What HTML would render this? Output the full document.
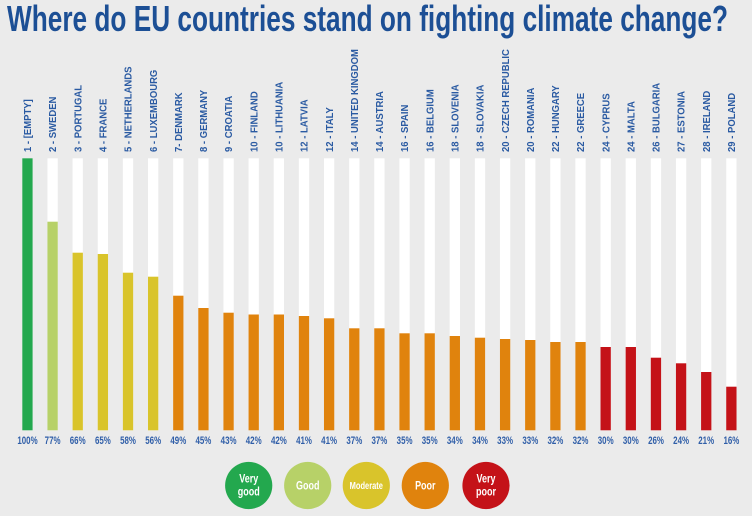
<!DOCTYPE html>
<html>
<head>
<meta charset="utf-8">
<style>
html,body{margin:0;padding:0;background:#ebebeb;}
svg{display:block;}
text{font-family:"Liberation Sans",sans-serif;font-weight:bold;}
</style>
</head>
<body>
<svg width="752" height="516" viewBox="0 0 752 516" xmlns="http://www.w3.org/2000/svg">
<rect x="0" y="0" width="752" height="516" fill="#ebebeb"/>
<text x="7" y="31" font-size="36" fill="#1c4f95" textLength="721" lengthAdjust="spacingAndGlyphs">Where do EU countries stand on fighting climate change?</text>

<g id="bars">
<!-- white backgrounds -->
<g fill="#ffffff">
<rect x="22.3" y="158.3" width="10.3" height="272"/>
<rect x="47.44" y="158.3" width="10.3" height="272"/>
<rect x="72.58" y="158.3" width="10.3" height="272"/>
<rect x="97.72" y="158.3" width="10.3" height="272"/>
<rect x="122.86" y="158.3" width="10.3" height="272"/>
<rect x="148.0" y="158.3" width="10.3" height="272"/>
<rect x="173.14" y="158.3" width="10.3" height="272"/>
<rect x="198.28" y="158.3" width="10.3" height="272"/>
<rect x="223.42" y="158.3" width="10.3" height="272"/>
<rect x="248.56" y="158.3" width="10.3" height="272"/>
<rect x="273.7" y="158.3" width="10.3" height="272"/>
<rect x="298.84" y="158.3" width="10.3" height="272"/>
<rect x="323.98" y="158.3" width="10.3" height="272"/>
<rect x="349.12" y="158.3" width="10.3" height="272"/>
<rect x="374.26" y="158.3" width="10.3" height="272"/>
<rect x="399.4" y="158.3" width="10.3" height="272"/>
<rect x="424.54" y="158.3" width="10.3" height="272"/>
<rect x="449.68" y="158.3" width="10.3" height="272"/>
<rect x="474.82" y="158.3" width="10.3" height="272"/>
<rect x="499.96" y="158.3" width="10.3" height="272"/>
<rect x="525.1" y="158.3" width="10.3" height="272"/>
<rect x="550.24" y="158.3" width="10.3" height="272"/>
<rect x="575.38" y="158.3" width="10.3" height="272"/>
<rect x="600.52" y="158.3" width="10.3" height="272"/>
<rect x="625.66" y="158.3" width="10.3" height="272"/>
<rect x="650.8" y="158.3" width="10.3" height="272"/>
<rect x="675.94" y="158.3" width="10.3" height="272"/>
<rect x="701.08" y="158.3" width="10.3" height="272"/>
<rect x="726.22" y="158.3" width="10.3" height="272"/>
</g>
<!-- coloured values -->
<rect x="22.3" y="158.3" width="10.3" height="272" fill="#23a84e"/>
<rect x="47.44" y="221.7" width="10.3" height="208.6" fill="#b7d168"/>
<g fill="#d9c42b">
<rect x="72.58" y="252.7" width="10.3" height="177.6"/>
<rect x="97.72" y="254" width="10.3" height="176.3"/>
<rect x="122.86" y="272.7" width="10.3" height="157.6"/>
<rect x="148.0" y="276.7" width="10.3" height="153.6"/>
</g>
<g fill="#e0830d">
<rect x="173.14" y="295.7" width="10.3" height="134.6"/>
<rect x="198.28" y="308" width="10.3" height="122.3"/>
<rect x="223.42" y="312.7" width="10.3" height="117.6"/>
<rect x="248.56" y="314.5" width="10.3" height="115.8"/>
<rect x="273.7" y="314.5" width="10.3" height="115.8"/>
<rect x="298.84" y="316" width="10.3" height="114.3"/>
<rect x="323.98" y="318.3" width="10.3" height="112"/>
<rect x="349.12" y="328.3" width="10.3" height="102"/>
<rect x="374.26" y="328.3" width="10.3" height="102"/>
<rect x="399.4" y="333.3" width="10.3" height="97"/>
<rect x="424.54" y="333.3" width="10.3" height="97"/>
<rect x="449.68" y="336" width="10.3" height="94.3"/>
<rect x="474.82" y="337.7" width="10.3" height="92.6"/>
<rect x="499.96" y="339" width="10.3" height="91.3"/>
<rect x="525.1" y="340" width="10.3" height="90.3"/>
<rect x="550.24" y="342" width="10.3" height="88.3"/>
<rect x="575.38" y="342" width="10.3" height="88.3"/>
</g>
<g fill="#c41218">
<rect x="600.52" y="347" width="10.3" height="83.3"/>
<rect x="625.66" y="347" width="10.3" height="83.3"/>
<rect x="650.8" y="357.7" width="10.3" height="72.6"/>
<rect x="675.94" y="363.3" width="10.3" height="67"/>
<rect x="701.08" y="372" width="10.3" height="58.3"/>
<rect x="726.22" y="386.7" width="10.3" height="43.6"/>
</g>
</g>

<!-- rotated country labels -->
<g font-size="10" fill="#2a5aa2">
<text transform="translate(31.1,152) rotate(-90) scale(0.95,1)">1 - [EMPTY]</text>
<text transform="translate(56.2,152) rotate(-90) scale(0.95,1)">2 - SWEDEN</text>
<text transform="translate(81.4,152) rotate(-90) scale(0.95,1)">3 - PORTUGAL</text>
<text transform="translate(106.5,152) rotate(-90) scale(0.95,1)">4 - FRANCE</text>
<text transform="translate(131.6,152) rotate(-90) scale(0.95,1)">5 - NETHERLANDS</text>
<text transform="translate(156.8,152) rotate(-90) scale(0.95,1)">6 - LUXEMBOURG</text>
<text transform="translate(181.9,152) rotate(-90) scale(0.95,1)">7- DENMARK</text>
<text transform="translate(207.1,152) rotate(-90) scale(0.95,1)">8 - GERMANY</text>
<text transform="translate(232.2,152) rotate(-90) scale(0.95,1)">9 - CROATIA</text>
<text transform="translate(257.4,152) rotate(-90) scale(0.95,1)">10 - FINLAND</text>
<text transform="translate(282.5,152) rotate(-90) scale(0.95,1)">10 - LITHUANIA</text>
<text transform="translate(307.6,152) rotate(-90) scale(0.95,1)">12 - LATVIA</text>
<text transform="translate(332.8,152) rotate(-90) scale(0.95,1)">12 - ITALY</text>
<text transform="translate(357.9,152) rotate(-90) scale(0.95,1)">14 - UNITED KINGDOM</text>
<text transform="translate(383.1,152) rotate(-90) scale(0.95,1)">14 - AUSTRIA</text>
<text transform="translate(408.2,152) rotate(-90) scale(0.95,1)">16 - SPAIN</text>
<text transform="translate(433.3,152) rotate(-90) scale(0.95,1)">16 - BELGIUM</text>
<text transform="translate(458.5,152) rotate(-90) scale(0.95,1)">18 - SLOVENIA</text>
<text transform="translate(483.6,152) rotate(-90) scale(0.95,1)">18 - SLOVAKIA</text>
<text transform="translate(508.8,152) rotate(-90) scale(0.95,1)">20 - CZECH REPUBLIC</text>
<text transform="translate(533.9,152) rotate(-90) scale(0.95,1)">20 - ROMANIA</text>
<text transform="translate(559.0,152) rotate(-90) scale(0.95,1)">22 - HUNGARY</text>
<text transform="translate(584.2,152) rotate(-90) scale(0.95,1)">22 - GREECE</text>
<text transform="translate(609.3,152) rotate(-90) scale(0.95,1)">24 - CYPRUS</text>
<text transform="translate(634.5,152) rotate(-90) scale(0.95,1)">24 - MALTA</text>
<text transform="translate(659.6,152) rotate(-90) scale(0.95,1)">26 - BULGARIA</text>
<text transform="translate(684.7,152) rotate(-90) scale(0.95,1)">27 - ESTONIA</text>
<text transform="translate(709.9,152) rotate(-90) scale(0.95,1)">28 - IRELAND</text>
<text transform="translate(735.0,152) rotate(-90) scale(0.95,1)">29 - POLAND</text>
</g>

<!-- percentage labels -->
<g font-size="11" fill="#2f5ea8" text-anchor="middle">
<text transform="translate(27.5,444) scale(0.72,1)">100%</text>
<text transform="translate(52.6,444) scale(0.72,1)">77%</text>
<text transform="translate(77.7,444) scale(0.72,1)">66%</text>
<text transform="translate(102.9,444) scale(0.72,1)">65%</text>
<text transform="translate(128.0,444) scale(0.72,1)">58%</text>
<text transform="translate(153.2,444) scale(0.72,1)">56%</text>
<text transform="translate(178.3,444) scale(0.72,1)">49%</text>
<text transform="translate(203.4,444) scale(0.72,1)">45%</text>
<text transform="translate(228.6,444) scale(0.72,1)">43%</text>
<text transform="translate(253.7,444) scale(0.72,1)">42%</text>
<text transform="translate(278.9,444) scale(0.72,1)">42%</text>
<text transform="translate(304.0,444) scale(0.72,1)">41%</text>
<text transform="translate(329.1,444) scale(0.72,1)">41%</text>
<text transform="translate(354.3,444) scale(0.72,1)">37%</text>
<text transform="translate(379.4,444) scale(0.72,1)">37%</text>
<text transform="translate(404.6,444) scale(0.72,1)">35%</text>
<text transform="translate(429.7,444) scale(0.72,1)">35%</text>
<text transform="translate(454.8,444) scale(0.72,1)">34%</text>
<text transform="translate(480.0,444) scale(0.72,1)">34%</text>
<text transform="translate(505.1,444) scale(0.72,1)">33%</text>
<text transform="translate(530.3,444) scale(0.72,1)">33%</text>
<text transform="translate(555.4,444) scale(0.72,1)">32%</text>
<text transform="translate(580.5,444) scale(0.72,1)">32%</text>
<text transform="translate(605.7,444) scale(0.72,1)">30%</text>
<text transform="translate(630.8,444) scale(0.72,1)">30%</text>
<text transform="translate(656.0,444) scale(0.72,1)">26%</text>
<text transform="translate(681.1,444) scale(0.72,1)">24%</text>
<text transform="translate(706.2,444) scale(0.72,1)">21%</text>
<text transform="translate(731.4,444) scale(0.72,1)">16%</text>
</g>

<!-- legend -->
<circle cx="248.7" cy="485.5" r="23.6" fill="#23a84e"/>
<circle cx="307.7" cy="485.5" r="23.6" fill="#b7d168"/>
<circle cx="366.3" cy="485.5" r="23.6" fill="#d9c42b"/>
<circle cx="425.3" cy="485.5" r="23.6" fill="#e0830d"/>
<circle cx="486" cy="485.5" r="23.6" fill="#c41218"/>
<g fill="#ffffff" text-anchor="middle" font-size="12">
<text transform="translate(248.7,482.5) scale(0.75,1)">Very</text>
<text transform="translate(248.7,495.5) scale(0.75,1)">good</text>
<text transform="translate(307.7,489.5) scale(0.75,1)">Good</text>
<text transform="translate(366.3,489) scale(0.75,1)" font-size="10">Moderate</text>
<text transform="translate(425.3,489.5) scale(0.75,1)">Poor</text>
<text transform="translate(486,482.5) scale(0.75,1)">Very</text>
<text transform="translate(486,495.5) scale(0.75,1)">poor</text>
</g>
</svg>
</body>
</html>
